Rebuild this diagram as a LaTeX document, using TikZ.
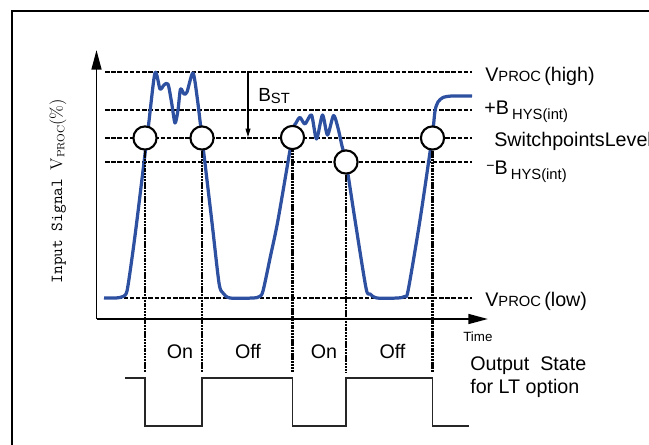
\documentclass[tikz,border=0pt]{standalone}
\usepackage{fontspec}
\newfontfamily\arialfont{Liberation Sans}
\usetikzlibrary{arrows.meta, positioning, calc}
\definecolor{sigblue}{RGB}{46,80,160}
\newcommand{\smallsub}[2][0pt]{\raisebox{#1}{\fontsize{10.5}{11}\selectfont #2}}

\begin{document}
\begin{tikzpicture}[x=0.025cm, y=-0.025cm,
    lvl/.style={line width=1.4pt, dash pattern=on 3.2pt off 1.2pt},
    drop/.style={line width=1.6pt, dash pattern=on 1.5pt off 0.5pt},
    axis/.style={line width=1.4pt, -{Triangle[length=14pt,width=7pt]}},
    sig/.style={sigblue, line width=2.3pt, line join=round},
    swpt/.style={circle, draw, fill=white, line width=1.5pt, minimum size=16.5pt, inner sep=0pt},
    lbl/.style={font=\arialfont\fontsize{14}{16.5}\selectfont, inner sep=0pt, anchor=base west},
    state/.style={font=\arialfont\fontsize{14}{16}\selectfont, inner sep=0pt, anchor=base},
    outw/.style={line width=1.4pt, black!85}]
  \useasboundingbox (0,0) rectangle (649,445);
  % frame
  \draw[line width=2pt] (12,445) -- (12,11) -- (649,11);

  % axes
  \coordinate (org) at (96.5,319);
  \coordinate (ytop) at (96.5,50);
  \coordinate (xend) at (488,319);
  \draw[axis] (org) -- (ytop);
  \draw[axis] (org) -- (xend);

  % levels
  \foreach \name/\y in {high/72, hysp/110, sw/138, hysm/162, low/298} {
    \coordinate (\name-l) at (105,\y);
    \coordinate (\name-r) at (472,\y);
    \draw[lvl] (\name-l) -- (\name-r);
  }

  % input signal
  \draw[sig] plot[smooth, tension=0.45] coordinates {
    (104,298) (116,298) (123,296.5) (127,291) (132,258) (137,220)
    (148.3,127) (155,73) (160,89) (164,85) (168,84) (171.5,102) (175,123)
    (178,110) (180.5,89) (184,94) (187,92) (193,73) (197.5,100) (202,138)
    (211.7,220) (219,283) (223,293) (230,298) (253,298) (259.5,296.5)
    (263,291) (270.5,256) (278,220) (293,133) (296,123) (300,117.5)
    (305,124) (311.5,115) (316.5,139) (322.5,115) (327.5,135) (333.5,115.5)
    (338,128) (342,146) (346,162) (355,220) (366,288) (370,294) (377,298)
    (398,298) (404.5,296.5) (408,291) (420,220) (432,138) (435,111)
    (438,102) (443,97.5) (452,96) (472,96)};

  % B_ST
  \coordinate (bst1) at (248,72);
  \coordinate (bst2) at (248,137);
  \draw[line width=0.8pt, -{Triangle[length=6pt,width=3.5pt]}] (bst1) -- (bst2);
  \node[lbl, font=\arialfont\fontsize{13.5}{16}\selectfont] (bst) at (258,102) {B\smallsub[-1pt]{ST}};

  % switch points
  \node[swpt] (c1) at (145,138) {};
  \node[swpt] (c2) at (202,138) {};
  \node[swpt] (c3) at (292.5,137.5) {};
  \node[swpt] (c4) at (346,162) {};
  \node[swpt] (c5) at (432.5,138) {};
  \coordinate (dropend) at (0,372);
  \foreach \c in {c1,c2,c3,c4,c5}
    \draw[drop] (\c.south) -- (\c.south |- dropend);

  % level labels
  \node[lbl] (vhigh) at (485,82) {V\smallsub{PROC}\,(high)};
  \node[lbl] (bhysp) at (484,115) {+B\,\smallsub[-3.5pt]{HYS(int)}};
  \node[lbl] (swlev) at (494,146.5) {SwitchpointsLevel};
  \node[lbl] (bhysm) at (486,175) {\raisebox{3.5pt}{\fontsize{10}{10}\selectfont −}B\,\smallsub[-3.5pt]{HYS(int)}};
  \node[lbl] (vlow) at (485,306.5) {V\smallsub{PROC}\,(low)};
  \node[lbl, font=\arialfont\fontsize{9.5}{10}\selectfont] (time) at (463,341.5) {Time};

  % y label
  \node[rotate=90, inner sep=0pt, font=\fontsize{12}{14}\selectfont] (ylab) at (58,191)
    {\ttfamily Input Signal \rmfamily V\raisebox{-1.5pt}{\fontsize{7.5}{8}\selectfont PROC}(\%)};

  % output state
  \node[state] (on1) at (180,358) {On};
  \node[state] (off1) at (248,358) {Off};
  \node[state] (on2) at (324,358) {On};
  \node[state] (off2) at (392.5,358) {Off};
  \node[lbl, align=left] (outst) at (470,393.3) {Output\ \ State\\for LT option};

  \coordinate (hi) at (125,378);
  \coordinate (lo) at (0,426);
  \draw[outw] (hi) -| (c1 |- lo) -| (c2 |- hi) -| (c3 |- lo) -| (c4 |- hi) -| (c5 |- lo) -- ++(36,0);
\end{tikzpicture}
\end{document}
